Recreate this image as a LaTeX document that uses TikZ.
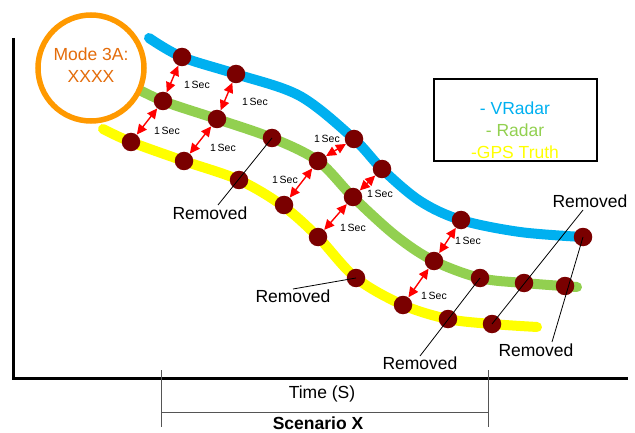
\documentclass[tikz,border=0pt]{standalone}
\usepackage{fontspec}
\setmainfont{Liberation Sans}
\usetikzlibrary{arrows.meta}
\definecolor{vblue}{HTML}{00B0F0}
\definecolor{rgreen}{HTML}{92D050}
\definecolor{gyellow}{HTML}{FFFF00}
\definecolor{dotred}{HTML}{7A0000}
\definecolor{ring}{HTML}{FF9900}
\definecolor{modetext}{HTML}{E46C0A}
\definecolor{brk}{HTML}{555555}
\begin{document}
\begin{tikzpicture}[x=1pt,y=-1pt,
  track/.style={line width=10pt, line cap=round},
  pt/.style={circle, fill=dotred, minimum size=18.5pt, inner sep=0pt},
  secarrow/.style={red, line width=1.4pt, {Triangle[width=9.5pt,length=10pt]}-{Triangle[width=9.5pt,length=10pt]}},
  seclabel/.style={font=\fontsize{10.5}{12}\selectfont, inner sep=0pt},
  biglabel/.style={font=\fontsize{17.5}{20}\selectfont, inner sep=0pt},
  leader/.style={black, line width=0.8pt},
  axisline/.style={line width=3pt},
  bracketline/.style={brk, line width=1pt},
]
\useasboundingbox (0,0) rectangle (635,433);

% axes
\coordinate (ytop) at (13,38);
\coordinate (origin) at (13,378);
\coordinate (xend) at (628,378);
\draw[axisline] (ytop) -- (origin) -- (xend);

% time bracket
\coordinate (t1top) at (161,370);
\coordinate (t1bot) at (161,427);
\coordinate (t2top) at (488,370);
\coordinate (t2bot) at (488,427);
\coordinate (b1) at (161,412);
\coordinate (b2) at (488,412);
\draw[bracketline] (t1top) -- (t1bot);
\draw[bracketline] (t2top) -- (t2bot);
\draw[bracketline] (b1) -- (b2);
\node[biglabel] (timelbl) at (322,394) {Time (S)};
\node[biglabel, font=\fontsize{17.5}{20}\selectfont\bfseries] (scenlbl) at (318,423) {Scenario X};

% tracks
\draw[track, vblue] plot[smooth, tension=0.55] coordinates {(149,38) (182,57) (236,74) (300,96) (354,139) (382,169) (420,201) (461,220) (520,232) (583,237)};
\draw[track, rgreen] plot[smooth, tension=0.55] coordinates {(128,84) (163,101) (217,119) (272,138) (318,161) (353,197) (396,236) (434,261) (480,278) (524,283) (577,287)};
\draw[track, gyellow] plot[smooth, tension=0.55] coordinates {(103,129) (131,142) (184,161) (239,180) (283,206) (318,237) (356,278) (403,305) (448,319) (492,324) (537,327)};

% mode circle
\draw[ring, line width=5.5pt, fill=white] (91,68) circle (53);
\node[biglabel, text=modetext, align=center] (mode) at (91,65) {Mode 3A:\\[2pt]XXXX};

% dots blue
\node[pt] (v1) at (182,57) {};
\node[pt] (v2) at (236,74) {};
\node[pt] (v3) at (354,139) {};
\node[pt] (v4) at (382,169) {};
\node[pt] (v5) at (461,220) {};
\node[pt] (v6) at (583,237) {};
% dots green
\node[pt] (g1) at (163,101) {};
\node[pt] (g2) at (217,119) {};
\node[pt] (g3) at (272,138) {};
\node[pt] (g4) at (318,161) {};
\node[pt] (g5) at (353,197) {};
\node[pt] (g6) at (434,261) {};
\node[pt] (g7) at (480,278) {};
\node[pt] (g8) at (524,283) {};
\node[pt] (g9) at (565,286) {};
% dots yellow
\node[pt] (y1) at (131,142) {};
\node[pt] (y2) at (184,161) {};
\node[pt] (y3) at (239,180) {};
\node[pt] (y4) at (284,205) {};
\node[pt] (y5) at (318,237) {};
\node[pt] (y6) at (356,278) {};
\node[pt] (y7) at (403,305) {};
\node[pt] (y8) at (448,319) {};
\node[pt] (y9) at (492,324) {};

% 1 sec arrows
\draw[secarrow] (v1) -- (g1);
\draw[secarrow] (v2) -- (g2);
\draw[secarrow] (g1) -- (y1);
\draw[secarrow] (g2) -- (y2);
\draw[secarrow] (v3) -- (g4);
\draw[secarrow] (v4) -- (g5);
\draw[secarrow] (g4) -- (y4);
\draw[secarrow] (g5) -- (y5);
\draw[secarrow] (v5) -- (g6);
\draw[secarrow] (g6) -- (y7);
\node[seclabel] (s1) at (197,85) {1\,Sec};
\node[seclabel] (s2) at (255,102) {1\,Sec};
\node[seclabel] (s3) at (167,131) {1\,Sec};
\node[seclabel] (s4) at (223,148) {1\,Sec};
\node[seclabel] (s5) at (327,139) {1\,Sec};
\node[seclabel] (s6) at (380,194) {1\,Sec};
\node[seclabel] (s7) at (285,180) {1\,Sec};
\node[seclabel] (s8) at (353,228) {1\,Sec};
\node[seclabel] (s9) at (468,241) {1\,Sec};
\node[seclabel] (s10) at (434,296) {1\,Sec};

% removed labels
\node[biglabel] (r1) at (210,213) {Removed};
\node[biglabel] (r2) at (293,296) {Removed};
\node[biglabel] (r3) at (420,363) {Removed};
\node[biglabel] (r4) at (590,201) {Removed};
\node[biglabel] (r5) at (536,350) {Removed};
\coordinate (r1e) at (218,205);
\coordinate (r2e) at (293,289);
\coordinate (r3e) at (420,356);
\coordinate (r4e) at (583,210);
\coordinate (r5e) at (552,342);
\draw[leader] (r1e) -- (g3.center);
\draw[leader] (r2e) -- (y6.center);
\draw[leader] (r3e) -- (g7.center);
\draw[leader] (r4e) -- (y9.center);
\draw[leader] (r5e) -- (v6.center);

% legend
\node[draw, line width=1.5pt, minimum width=163pt, minimum height=82pt, inner sep=0pt] (legend) at (515.5,120) {};
\node[biglabel, text=vblue] (lv) at (515,108) {- VRadar};
\node[biglabel, text=rgreen] (lr) at (515,130) {- Radar};
\node[biglabel, text=gyellow] (lg) at (515,152) {-GPS Truth};
\end{tikzpicture}
\end{document}
